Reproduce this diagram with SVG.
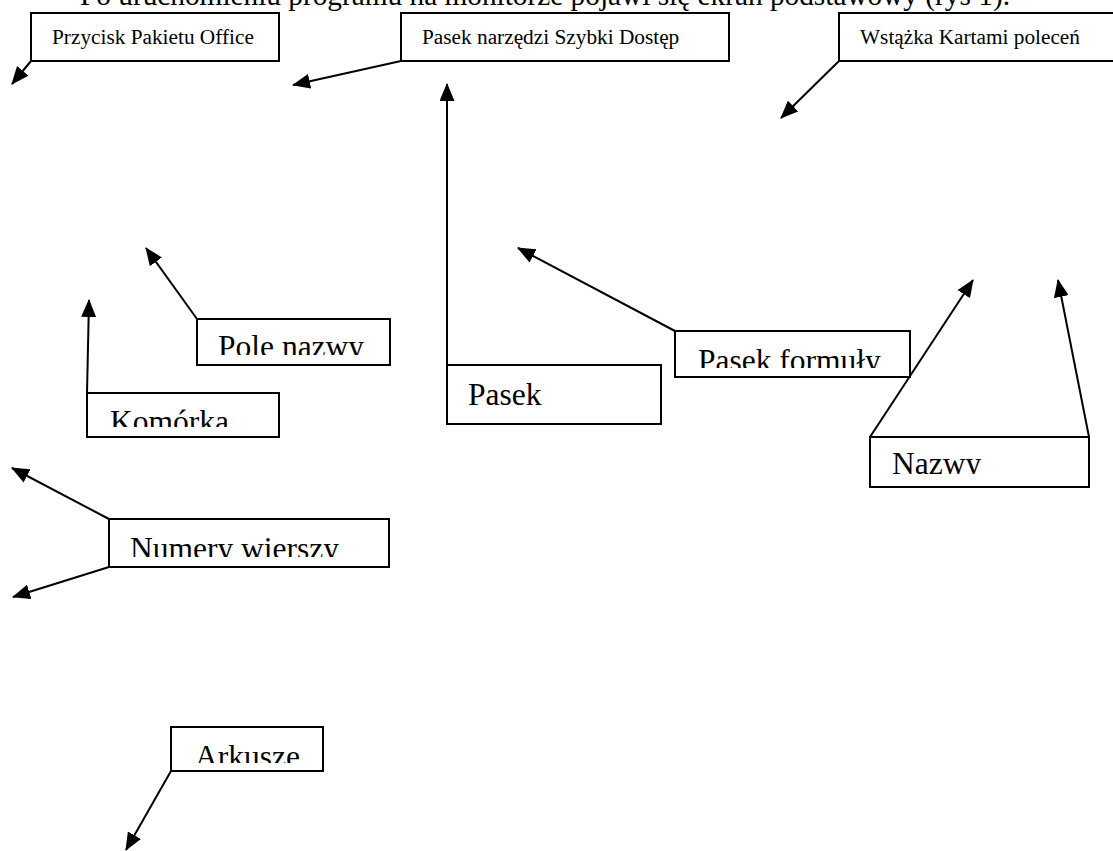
<svg xmlns="http://www.w3.org/2000/svg" width="1113" height="851" viewBox="0 0 1113 851">
<style>
.box{fill:#fff;stroke:#000;stroke-width:2}
.sm{font-family:"Liberation Serif","Times New Roman",serif;font-size:21.3px;fill:#000}
.lg{font-family:"Liberation Serif","Times New Roman",serif;font-size:31.5px;fill:#000}
.top{font-family:"Liberation Serif","Times New Roman",serif;font-size:29.3px;fill:#000}
.con{stroke:#000;stroke-width:2;fill:none;marker-end:url(#ah)}
</style>
<defs>
<marker id="ah" viewBox="0 0 18 15" refX="17" refY="7.5" markerWidth="18" markerHeight="15" markerUnits="userSpaceOnUse" orient="auto">
<path d="M0,0 L18,7.5 L0,15 z" fill="#000"/>
</marker>
<clipPath id="c1"><rect x="190" y="300" width="210" height="55"/></clipPath>
<clipPath id="c2"><rect x="80" y="380" width="210" height="47"/></clipPath>
<clipPath id="c3"><rect x="670" y="320" width="250" height="48"/></clipPath>
<clipPath id="c4"><rect x="860" y="430" width="240" height="44"/></clipPath>
<clipPath id="c5"><rect x="100" y="510" width="300" height="47"/></clipPath>
<clipPath id="c6"><rect x="165" y="720" width="170" height="43"/></clipPath>
</defs>
<rect width="1113" height="851" fill="#fff"/>
<text class="top" x="80" y="5">Po uruchomieniu programu na monitorze pojawi się ekran podstawowy (rys 1).</text>
<g id="connectors">
<line class="con" x1="31" y1="61" x2="12" y2="84"/>
<line class="con" x1="401" y1="61" x2="293" y2="85"/>
<line class="con" x1="447" y1="365" x2="447" y2="84"/>
<line class="con" x1="839" y1="61" x2="781" y2="118"/>
<line class="con" x1="197" y1="319" x2="146" y2="248"/>
<line class="con" x1="87" y1="393" x2="89" y2="300"/>
<line class="con" x1="675" y1="331" x2="518" y2="248"/>
<line class="con" x1="870" y1="437" x2="973" y2="280"/>
<line class="con" x1="1089" y1="437" x2="1058" y2="280"/>
<line class="con" x1="109" y1="519" x2="12" y2="468"/>
<line class="con" x1="109" y1="567" x2="13" y2="597"/>
<line class="con" x1="171" y1="771" x2="126" y2="850"/>
</g>
<g id="przycisk">
<rect class="box" x="31" y="13" width="248" height="48"/>
<text class="sm" x="52" y="44">Przycisk Pakietu Office</text>
</g>
<g id="pasek-narzedzi">
<rect class="box" x="401" y="13" width="328" height="48"/>
<text class="sm" x="422" y="44">Pasek narzędzi Szybki Dostęp</text>
</g>
<g id="wstazka">
<rect class="box" x="839" y="13" width="280" height="48"/>
<text class="sm" x="860" y="44">Wstążka Kartami poleceń</text>
</g>
<g id="pole-nazwy">
<rect class="box" x="197" y="319" width="193" height="46"/>
<text class="lg" x="218" y="357" clip-path="url(#c1)">Pole nazwy</text>
</g>
<g id="komorka">
<rect class="box" x="87" y="393" width="192" height="44"/>
<text class="lg" x="110" y="432" clip-path="url(#c2)">Komórka</text>
</g>
<g id="pasek">
<rect class="box" x="447" y="365" width="214" height="59"/>
<text class="lg" x="468" y="405">Pasek</text>
</g>
<g id="pasek-formuly">
<rect class="box" x="675" y="331" width="235" height="46"/>
<text class="lg" x="698" y="370.5" clip-path="url(#c3)">Pasek formuły</text>
</g>
<g id="nazwy">
<rect class="box" x="870" y="437" width="219" height="50"/>
<text class="lg" x="892" y="474" clip-path="url(#c4)">Nazwy</text>
</g>
<g id="numery">
<rect class="box" x="109" y="519" width="280" height="48"/>
<text class="lg" x="130" y="559" clip-path="url(#c5)">Numery wierszy</text>
</g>
<g id="arkusze">
<rect class="box" x="171" y="727" width="152" height="44"/>
<text class="lg" x="195" y="767" clip-path="url(#c6)">Arkusze</text>
</g>
</svg>
